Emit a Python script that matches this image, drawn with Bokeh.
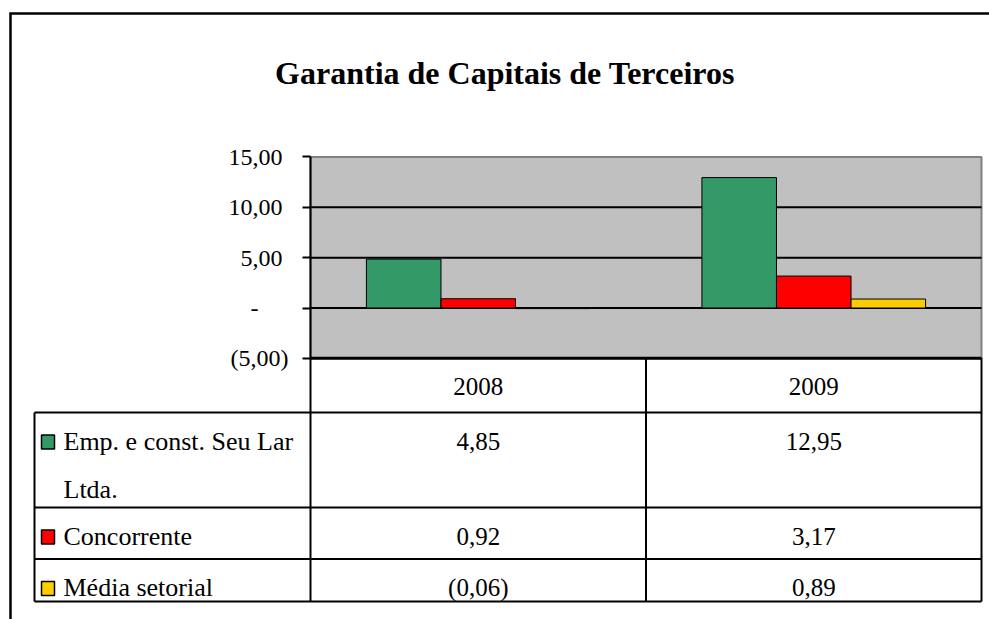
import textwrap
from bokeh.plotting import figure
from bokeh.models import Range1d, LinearAxis, FixedTicker
from bokeh.core.properties import value
from bokeh.embed import file_html
from bokeh.resources import INLINE

# ---------------- data ----------------
chart_title = "Garantia de Capitais de Terceiros"
years = ["2008", "2009"]
series_names = ["Emp. e const. Seu Lar Ltda.", "Concorrente", "Média setorial"]
emp_seu_lar = [4.85, 12.95]
concorrente = [0.92, 3.17]
media_setorial = [-0.06, 0.89]
series_colors = ["#339966", "#FF0000", "#FFCC00"]
y_ticks = [-5, 0, 5, 10, 15]
y_tick_labels = ["(5,00)", "-", "5,00", "10,00", "15,00"]

series_values = [emp_seu_lar, concorrente, media_setorial]

# ---------------- layout constants (screen px) ----------------
FONT = "Liberation Serif"
W, H = 989, 619
SX0, SY0 = 0, 0            # canvas origin on the page
X0, CAT_W = 310.0, 335.5   # x of first category boundary, width of one category
Y0, PX_UNIT = 307.5, 10.07 # y of value 0, pixels per value unit
GAP = 1.5                  # Excel-like gap width

ncat = len(years)
nser = len(series_values)

def fmt(v):
    s = f"{abs(v):.2f}".replace(".", ",")
    return f"({s})" if v < 0 else s

x_range = Range1d((SX0 - X0) / CAT_W, (SX0 + W - X0) / CAT_W)
y_range = Range1d((Y0 - (SY0 + H)) / PX_UNIT, (Y0 - SY0) / PX_UNIT)

p = figure(width=W, height=H, x_range=x_range, y_range=y_range,
           x_axis_type=None, y_axis_type=None, toolbar_location=None,
           output_backend="svg", min_border=0, title_location=None)
p.outline_line_color = None
p.background_fill_color = "white"
p.border_fill_color = "white"
p.extra_x_ranges = {"px": Range1d(SX0, SX0 + W)}
p.extra_y_ranges = {"py": Range1d(SY0 + H, SY0)}

# outer chart-area border
p.line(x=[10, 10, SX0 + W], y=[SY0 + H, 13, 13], x_range_name="px", y_range_name="py",
       line_color="black", line_width=2.5, line_join="miter")

# title
p.text(x=[504.5], y=[72], text=[chart_title], x_range_name="px", y_range_name="py",
       text_font=value(FONT), text_font_size="32px", text_font_style="bold",
       text_align="center", text_baseline="alphabetic", text_color="black")

# plot area
p.quad(left=[0], right=[ncat], bottom=[y_ticks[0]], top=[y_ticks[-1]],
       fill_color="#C0C0C0", line_color="#808080", line_width=2)
inner = y_ticks[1:-1]
p.segment(x0=[0] * len(inner), x1=[ncat] * len(inner), y0=inner, y1=inner,
          line_color="black", line_width=2)

# bars
bw = 1.0 / (nser + GAP)
for j, (vals, col) in enumerate(zip(series_values, series_colors)):
    xs = [i + 0.5 + (j - (nser - 1) / 2) * bw for i in range(ncat)]
    p.vbar(x=xs, top=vals, bottom=0, width=bw, fill_color=col,
           line_color="black", line_width=1)

# category axis baseline (-5)
p.segment(x0=[0], x1=[ncat], y0=[y_ticks[0]], y1=[y_ticks[0]],
          line_color="black", line_width=3)

# ---------------- data table ----------------
TBL_L = 34
TBL_R = X0 + ncat * CAT_W
row_bounds = [357.5, 412, 507, 558.5, 601]   # header, series rows..., bottom
hl = row_bounds[1:]
p.segment(x0=[TBL_L] * len(hl), x1=[TBL_R] * len(hl), y0=hl, y1=hl,
          x_range_name="px", y_range_name="py", line_color="black", line_width=2)
p.segment(x0=[TBL_L], x1=[TBL_L], y0=[row_bounds[1]], y1=[row_bounds[-1]],
          x_range_name="px", y_range_name="py", line_color="black", line_width=2)
kb = list(range(ncat + 1))
p.segment(x0=kb, x1=kb, y0=[row_bounds[0]] * len(kb), y1=[row_bounds[-1]] * len(kb),
          y_range_name="py", line_color="black", line_width=2)

# header (years)
p.text(x=[i + 0.5 for i in range(ncat)], y=[386] * ncat, text=years, y_range_name="py",
       text_font=value(FONT), text_font_size="25px", text_align="center",
       text_baseline="middle", text_color="black")

# rows
for j, (name, vals, col) in enumerate(zip(series_names, series_values, series_colors)):
    cy = row_bounds[j + 1] + 28.5
    p.text(x=[i + 0.5 for i in range(ncat)], y=[cy] * ncat, text=[fmt(v) for v in vals],
           y_range_name="py", text_font=value(FONT), text_font_size="25px",
           text_align="center", text_baseline="middle", text_color="black")
    lines = textwrap.wrap(name, 21)
    p.text(x=[63] * len(lines), y=[cy + 48 * k for k in range(len(lines))], text=lines,
           x_range_name="px", y_range_name="py", text_font=value(FONT),
           text_font_size="26px", text_align="left", text_baseline="middle",
           text_color="black")
    p.rect(x=[47.5], y=[cy + 1], width=13, height=14, x_range_name="px", y_range_name="py",
           fill_color=col, line_color="black", line_width=1.5)

# ---------------- value axis ----------------
def pad(lbl):
    if lbl.startswith("("):
        return lbl
    return lbl + "\u00a0" * (5 if lbl == "-" else 1)

ax = LinearAxis(fixed_location=0, bounds=(y_ticks[0], y_ticks[-1]),
                ticker=FixedTicker(ticks=y_ticks),
                major_label_overrides={t: pad(l) for t, l in zip(y_ticks, y_tick_labels)},
                axis_line_color="black", axis_line_width=2,
                major_tick_line_color="black", major_tick_line_width=2,
                major_tick_out=8, major_tick_in=0, minor_tick_line_color=None,
                major_label_text_font=FONT, major_label_text_font_size="24px",
                major_label_text_color="black", major_label_standoff=14)
p.add_layout(ax, "left")

open("out.html", "w").write(file_html(p, INLINE))
